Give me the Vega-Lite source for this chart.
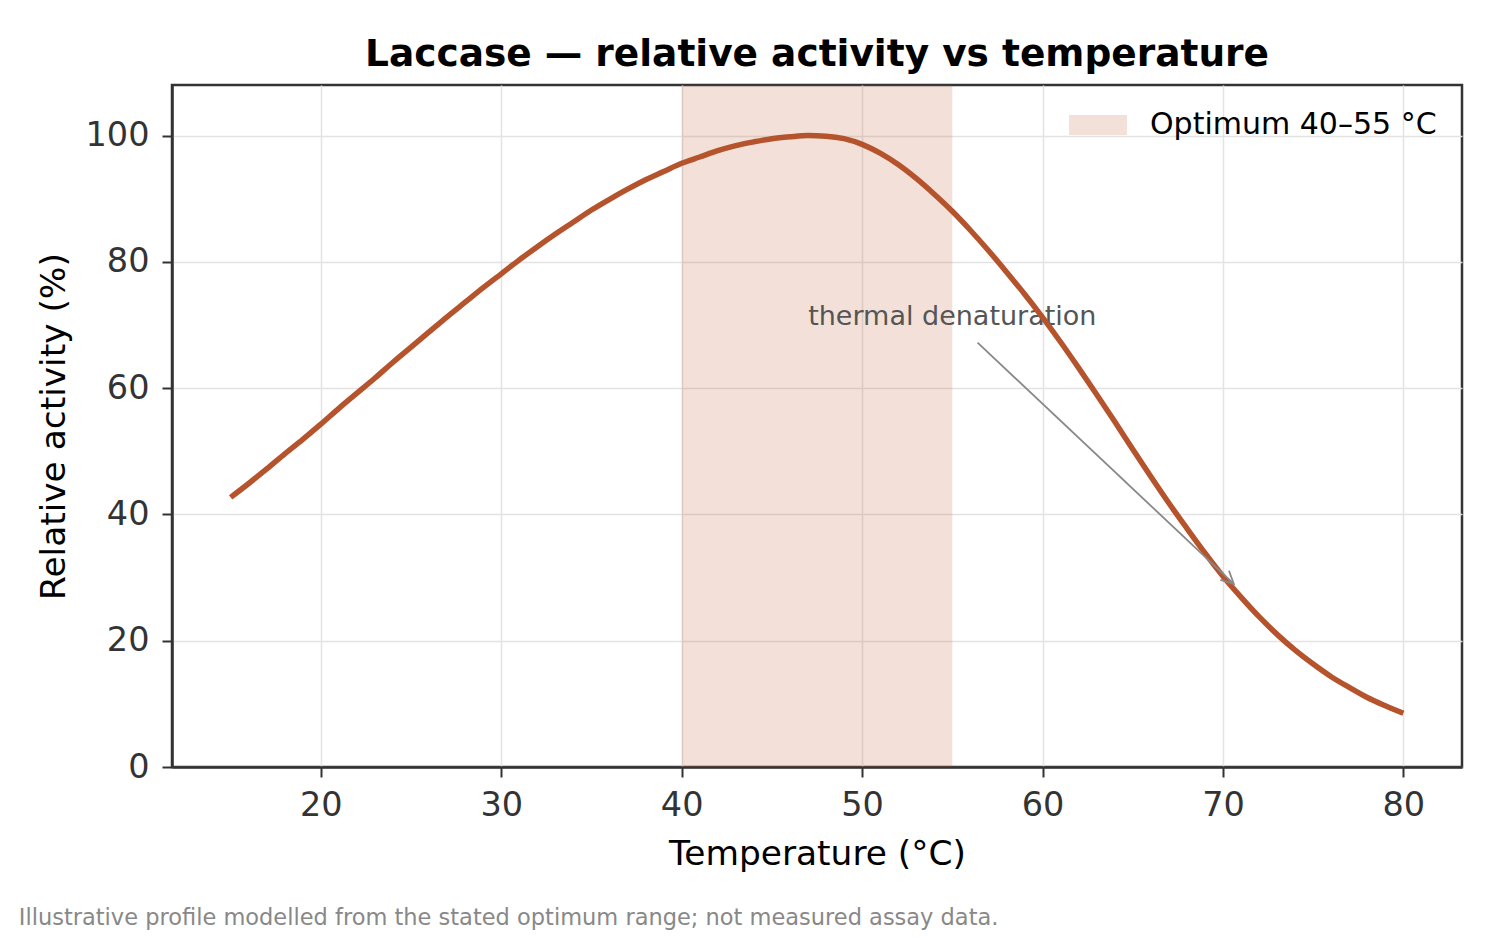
{
  "$schema": "https://vega.github.io/schema/vega-lite/v6.json",
  "background": "white",
  "padding": {"left": 18, "top": 34, "right": 37, "bottom": 8},
  "title": {
    "text": "Illustrative profile modelled from the stated optimum range; not measured assay data.",
    "orient": "bottom", "anchor": "start", "dx": -16, "offset": 35,
    "font": "DejaVu Sans", "fontSize": 22.5, "fontWeight": "normal", "color": "#888888"
  },
  "datasets": {
    "curve": [
      {"t": 15, "a": 42.7}, {"t": 16, "a": 44.9}, {"t": 17, "a": 47.2}, {"t": 18, "a": 49.6}, {"t": 19, "a": 51.9},
      {"t": 20, "a": 54.3}, {"t": 21, "a": 56.8}, {"t": 22, "a": 59.2}, {"t": 23, "a": 61.6}, {"t": 24, "a": 64.1},
      {"t": 25, "a": 66.5}, {"t": 26, "a": 68.9}, {"t": 27, "a": 71.3}, {"t": 28, "a": 73.6}, {"t": 29, "a": 75.9},
      {"t": 30, "a": 78.1}, {"t": 31, "a": 80.3}, {"t": 32, "a": 82.4}, {"t": 33, "a": 84.4}, {"t": 34, "a": 86.3},
      {"t": 35, "a": 88.2}, {"t": 36, "a": 89.9}, {"t": 37, "a": 91.5}, {"t": 38, "a": 93.0}, {"t": 39, "a": 94.3},
      {"t": 40, "a": 95.6}, {"t": 41, "a": 96.6}, {"t": 42, "a": 97.6}, {"t": 43, "a": 98.4}, {"t": 44, "a": 99.0},
      {"t": 45, "a": 99.5}, {"t": 46, "a": 99.8}, {"t": 47, "a": 100.0}, {"t": 48, "a": 99.9}, {"t": 49, "a": 99.5},
      {"t": 50, "a": 98.6}, {"t": 51, "a": 97.2}, {"t": 52, "a": 95.4}, {"t": 53, "a": 93.2}, {"t": 54, "a": 90.7},
      {"t": 55, "a": 88.0}, {"t": 56, "a": 85.0}, {"t": 57, "a": 81.8}, {"t": 58, "a": 78.4}, {"t": 59, "a": 74.9},
      {"t": 60, "a": 71.2}, {"t": 61, "a": 67.3}, {"t": 62, "a": 63.2}, {"t": 63, "a": 59.0}, {"t": 64, "a": 54.7},
      {"t": 65, "a": 50.3}, {"t": 66, "a": 46.0}, {"t": 67, "a": 41.8}, {"t": 68, "a": 37.8}, {"t": 69, "a": 33.9},
      {"t": 70, "a": 30.2}, {"t": 71, "a": 26.9}, {"t": 72, "a": 23.8}, {"t": 73, "a": 21.0}, {"t": 74, "a": 18.5},
      {"t": 75, "a": 16.3}, {"t": 76, "a": 14.3}, {"t": 77, "a": 12.6}, {"t": 78, "a": 11.0}, {"t": 79, "a": 9.7},
      {"t": 80, "a": 8.5}
    ],
    "band": [{"start": 40, "end": 55, "label": "Optimum 40–55 °C"}],
    "note": [{"x": 55, "y": 71.3, "text": "thermal denaturation"}],
    "arrow": [{"x": 56.4, "y": 67.2, "xe": 70.6, "ye": 29.0}]
  },
  "vconcat": [
    {
      "title": {
        "text": "Laccase — relative activity vs temperature",
        "font": "DejaVu Sans", "fontSize": 37.5, "fontWeight": "bold", "color": "#000000",
        "anchor": "middle", "offset": 12
      },
      "width": 1290,
      "height": 682,
      "layer": [
        {
          "data": {"name": "band"},
          "mark": {"type": "rect", "opacity": 0.18},
          "encoding": {
            "x": {"field": "start", "type": "quantitative", "title": "Temperature (°C)",
                  "scale": {"domain": [11.75, 83.25], "nice": false, "zero": false},
                  "axis": {"values": [20, 30, 40, 50, 60, 70, 80]}},
            "x2": {"field": "end"},
            "color": {
              "field": "label", "type": "nominal",
              "scale": {"range": ["#b5532c"]},
              "legend": {
                "title": null, "orient": "top-right", "offset": 25, "padding": 0,
                "symbolType": "M -2.9 -1 H 2.9 V 1 H -2.9 Z", "symbolSize": 400,
                "symbolOpacity": 0.18, "symbolStrokeWidth": 0,
                "labelFont": "DejaVu Sans", "labelFontSize": 30, "labelColor": "#000000",
                "labelOffset": 37, "labelLimit": 0
              }
            }
          }
        },
        {
          "data": {"name": "note"},
          "mark": {"type": "text", "font": "DejaVu Sans", "fontSize": 27, "color": "#555555", "align": "center", "baseline": "middle"},
          "encoding": {
            "x": {"field": "x", "type": "quantitative", "title": "Temperature (°C)"},
            "y": {"field": "y", "type": "quantitative", "title": "Relative activity (%)"},
            "text": {"field": "text"}
          }
        },
        {
          "data": {"name": "curve"},
          "mark": {"type": "line", "color": "#b5532c", "strokeWidth": 5.5, "interpolate": "monotone"},
          "encoding": {
            "x": {"field": "t", "type": "quantitative", "title": "Temperature (°C)"},
            "y": {"field": "a", "type": "quantitative", "title": "Relative activity (%)",
                  "scale": {"domain": [0, 108], "nice": false},
                  "axis": {"values": [0, 20, 40, 60, 80, 100]}}
          }
        },
        {
          "data": {"name": "arrow"},
          "mark": {"type": "rule", "color": "#888888", "strokeWidth": 1.8},
          "encoding": {
            "x": {"field": "x", "type": "quantitative", "title": "Temperature (°C)"},
            "y": {"field": "y", "type": "quantitative", "title": "Relative activity (%)"},
            "x2": {"field": "xe"},
            "y2": {"field": "ye"}
          }
        },
        {
          "data": {"name": "arrow"},
          "mark": {"type": "point", "shape": "M -0.5 1 L 0 0 L 0.5 1", "filled": false, "size": 625, "angle": 133.5, "stroke": "#888888", "strokeWidth": 1.8, "opacity": 1},
          "encoding": {
            "x": {"field": "xe", "type": "quantitative", "title": "Temperature (°C)"},
            "y": {"field": "ye", "type": "quantitative", "title": "Relative activity (%)"}
          }
        }
      ]
    }
  ],
  "config": {
    "font": "DejaVu Sans",
    "view": {"stroke": "#333333", "strokeWidth": 2.5},
    "axis": {
      "domainColor": "#333333", "domainWidth": 2.5,
      "tickColor": "#333333", "tickWidth": 2, "tickSize": 10,
      "labelFont": "DejaVu Sans", "labelFontSize": 33.5, "labelColor": "#333333",
      "titleFont": "DejaVu Sans", "titleFontSize": 34.4, "titleFontWeight": "normal", "titleColor": "#000000",
      "gridColor": "#e3e3e3", "gridWidth": 1.5,
      "labelFlush": false, "labelOverlap": false
    },
    "axisX": {"labelPadding": 12, "titlePadding": 16},
    "axisY": {"labelPadding": 13, "titlePadding": 14}
  }
}
